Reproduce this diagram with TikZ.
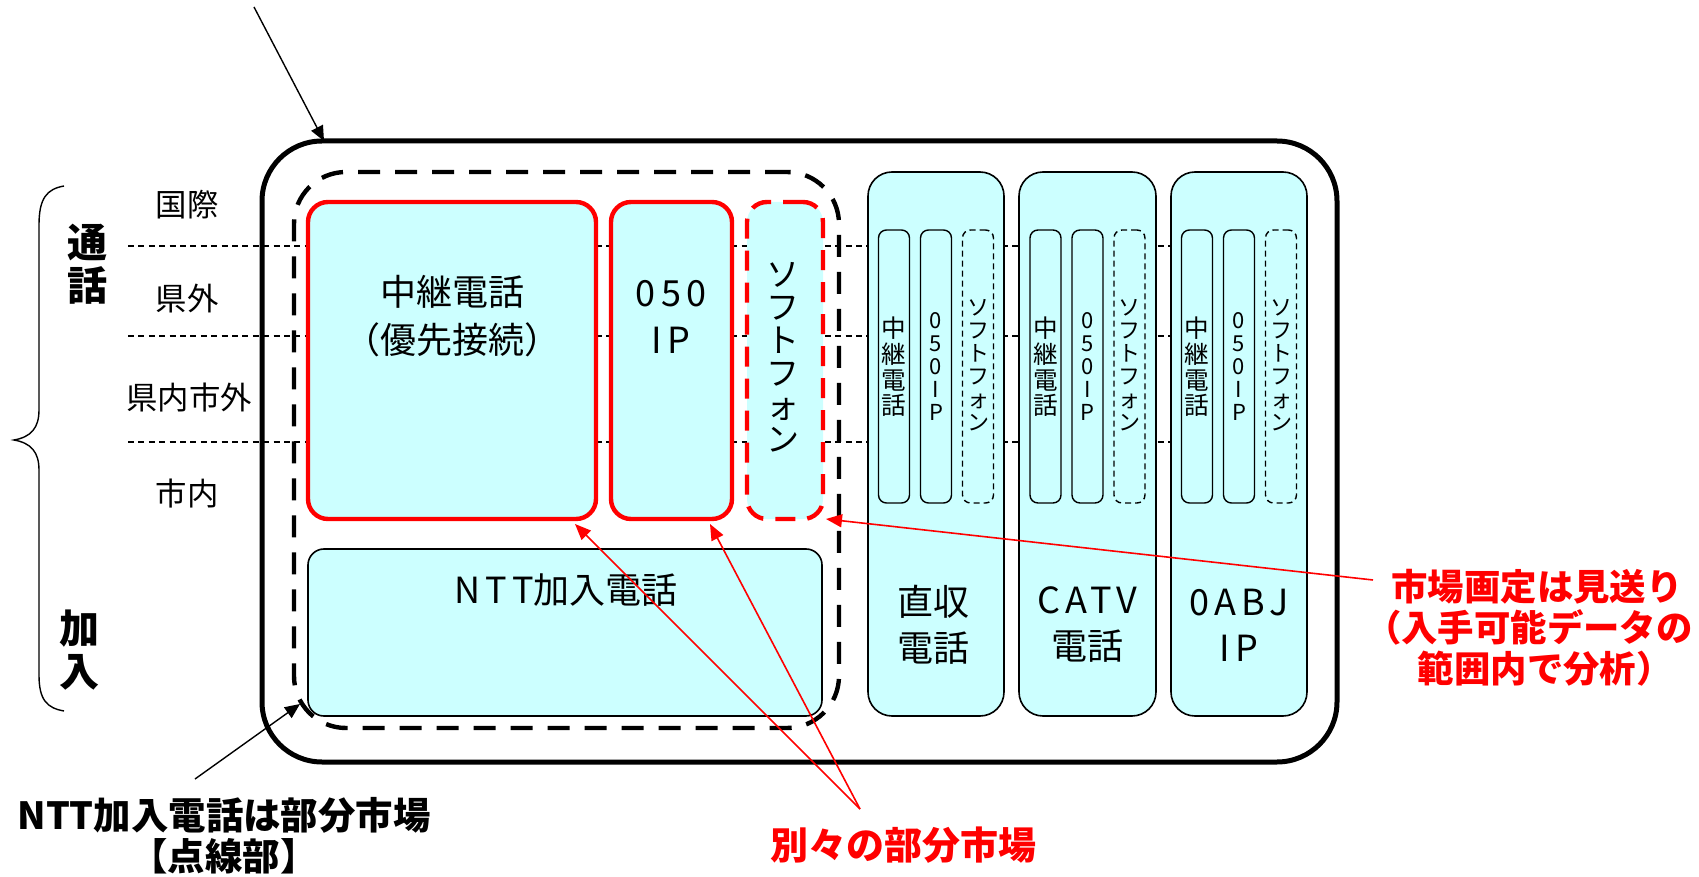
\documentclass[tikz,border=0pt]{standalone}
\usepackage{fontspec}
\setmainfont{Noto Sans CJK JP}
\usetikzlibrary{arrows.meta,calc}
\definecolor{boxfill}{HTML}{CCFFFF}
\definecolor{mred}{HTML}{FF0000}
\newcommand{\wlat}[1]{{\addfontfeature{LetterSpace=14}#1}}
\newcommand{\lpar}{\kern-.45em（}
\newcommand{\rpar}{）\kern-.45em}
\begin{document}
\begin{tikzpicture}[x=0.5pt,y=-0.5pt,
  pb/.style={inner sep=0pt, outer sep=0pt, anchor=center},
  outerbox/.style={pb, draw, line width=2.5pt, rounded corners=30pt},
  dashbox/.style={pb, draw, line width=2.2pt, dash pattern=on 11pt off 7.5pt, rounded corners=26pt},
  redbox/.style={pb, draw=mred, fill=boxfill, line width=2.2pt, rounded corners=10pt},
  redsoft/.style={redbox, dash pattern=on 10pt off 6pt},
  cbox/.style={pb, draw, fill=boxfill, line width=0.8pt, rounded corners=12pt},
  smallbox/.style={pb, draw, line width=0.7pt, rounded corners=4pt, minimum width=15.5pt, minimum height=136.5pt},
  smalldash/.style={smallbox, dash pattern=on 3pt off 2pt},
  gridline/.style={line width=0.6pt, dash pattern=on 3pt off 2.2pt},
  lbl/.style={font=\fontsize{15.7}{18}\selectfont},
  maintxt/.style={font=\fontsize{18}{23.75}\selectfont, align=center},
  coltxt/.style={font=\fontsize{18}{23}\selectfont, align=center},
  vsmall/.style={font=\fontsize{11}{11.5}\selectfont, align=center, inner sep=0pt},
  vsmallk/.style={font=\fontsize{12.3}{12.8}\selectfont, align=center, inner sep=0pt},
  vbig/.style={font=\fontsize{16.5}{16.5}\selectfont, align=center, inner sep=0pt},
  bigb/.style={font=\bfseries\fontsize{20}{21.5}\selectfont, align=center},
  redt/.style={text=mred, font=\bfseries\fontsize{18.2}{20.5}\selectfont, align=center},
  blkt/.style={font=\bfseries\fontsize{18.7}{20.5}\selectfont, align=center},
  blk/.style={line width=0.7pt, -{Triangle[length=7.5pt,width=6.5pt]}},
  rarr/.style={draw=mred, line width=0.8pt, -{Triangle[length=8pt,width=6.5pt]}}
]
\useasboundingbox (0,0) rectangle (1699,877);

% outer box
\node[outerbox, minimum width=537.5pt, minimum height=310.5pt] (outer) at (799.5,451.5) {};

% grid lines
\coordinate (g1a) at (128,246); \coordinate (g1b) at (1171,246);
\coordinate (g2a) at (128,336); \coordinate (g2b) at (1171,336);
\coordinate (g3a) at (128,442); \coordinate (g3b) at (1171,442);
\draw[gridline] (g1a) -- (g1b);
\draw[gridline] (g2a) -- (g2b);
\draw[gridline] (g3a) -- (g3b);

\node[dashbox, minimum width=272.5pt, minimum height=278pt] (grp) at (566.5,450) {};

% red boxes
\node[redbox, minimum width=144pt, minimum height=158.5pt] (relay) at (452,360.5) {};
\node[redbox, minimum width=60.5pt, minimum height=158.5pt] (ip050) at (671.5,360.5) {};
\node[redsoft, minimum width=38pt, minimum height=158.5pt] (soft) at (785,360.5) {};
\node[cbox, rounded corners=8pt, minimum width=257pt, minimum height=83.5pt] (ntt) at (565,632.5) {};

% columns
\node[cbox, minimum width=68pt, minimum height=272pt] (col1) at (936,444) {};
\node[cbox, minimum width=68.5pt, minimum height=272pt] (col2) at (1087.5,444) {};
\node[cbox, minimum width=68pt, minimum height=272pt] (col3) at (1239,444) {};

% small boxes
\foreach \c/\n in {936/a,1087.5/b,1239/c}{
  \node[smallbox] (s1\n) at (\c-42,366.5) {};
  \node[vsmallk] (t1\n) at (\c-42,367) {中\\継\\電\\話};
  \node[smallbox] (s2\n) at (\c,366.5) {};
  \node[vsmall] (t2\n) at (\c,367) {0\\5\\0\\I\\P};
  \node[smalldash] (s3\n) at (\c+42,366.5) {};
  \node[vsmall] (t3\n) at (\c+42,365) {ソ\\フ\\ト\\フ\\ォ\\ン};
}

% texts in boxes
\node[maintxt] (relayt) at (452,316) {中継電話\\\lpar 優先接続\rpar};
\node[maintxt] (ipt) at (671,317) {\wlat{050}\\\wlat{IP}};
\node[vbig] (softt) at (783,357) {ソ\\フ\\ト\\フ\\ォ\\ン};
\node[maintxt] (nttt) at (566,590) {\wlat{NTT}加入電話};
\node[coltxt] (c1t) at (933,625) {直収\\電話};
\node[coltxt] (c2t) at (1087.5,625) {\wlat{CATV}\\電話};
\node[coltxt] (c3t) at (1239,625) {\wlat{0ABJ}\\\wlat{IP}};

% left labels
\node[lbl] (l1) at (187,205) {国際};
\node[lbl] (l2) at (187,299) {県外};
\node[lbl] (l3) at (189,398) {県内市外};
\node[lbl] (l4) at (187,494) {市内};
\node[bigb] (tsuwa) at (88,264) {通\\話};
\node[bigb] (kanyu) at (80,650) {加\\入};

% brace
\draw[line width=0.7pt] (64,186) .. controls (47,189) and (39,198) .. (39,225) -- (39,410)
  .. controls (39,428) and (31,437) .. (14,440) .. controls (31,443) and (39,452) .. (39,470)
  -- (39,675) .. controls (39,700) and (47,708) .. (64,711);

% annotations
\node[blkt] (nttlbl) at (224,836) {NTT加入電話は部分市場\\{\kern-.45em【}点線部{】\kern-.45em}};
\node[redt, font=\bfseries\fontsize{19}{20.5}\selectfont] (betsu) at (903,845) {別々の部分市場};
\node[redt] (mikuri) at (1537,628) {市場画定は見送り\\\lpar 入手可能データの\\範囲内で分析\rpar};

\coordinate (ta) at (254,7);
\draw[blk] (ta) -- ([xshift=31pt]outer.north west);
\coordinate (nt) at (195,779);
\coordinate (ntip) at (300,704);
\draw[blk] (nt) -- (ntip);
\coordinate (apex) at (860,809);
\coordinate (c1) at (575,524);
\coordinate (c2) at (710,524);
\draw[rarr] (apex) -- (c1);
\draw[rarr] (apex) -- (c2);
\coordinate (ms) at (1373,580);
\coordinate (c3) at (826,519);
\draw[rarr] (ms) -- (c3);
\end{tikzpicture}
\end{document}
